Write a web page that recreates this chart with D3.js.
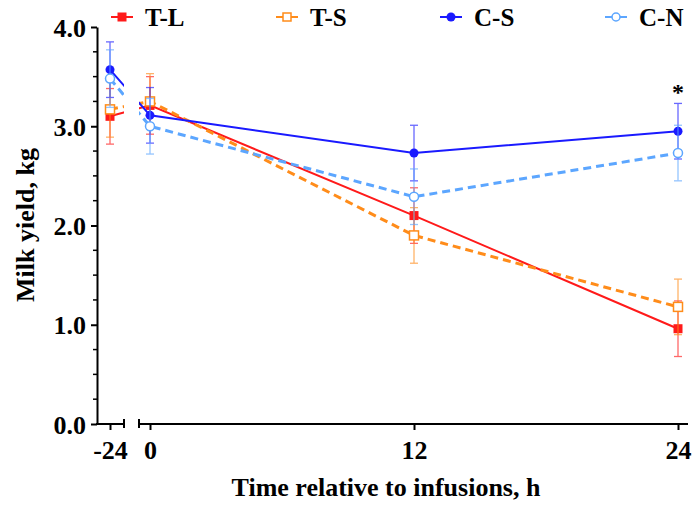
<!DOCTYPE html>
<html>
<head>
<meta charset="utf-8">
<script src="https://d3js.org/d3.v7.min.js"></script>
<style>
  body { margin: 0; background: #fff; }
  svg text { font-family: "Liberation Serif", "Times New Roman", serif; font-weight: bold; }
</style>
</head>
<body>
<div id="chart"></div>
<script>
// time points (h relative to infusions)
var times = [-24, 0, 12, 24];

// milk yield means and SE per treatment
var tlMean = [3.10, 3.21, 2.10, 0.96];
var tlSE   = [0.28, 0.29, 0.28, 0.28];
var tsMean = [3.17, 3.25, 1.90, 1.18];
var tsSE   = [0.28, 0.28, 0.28, 0.28];
var csMean = [3.57, 3.11, 2.73, 2.95];
var csSE   = [0.28, 0.28, 0.28, 0.28];
var cnMean = [3.48, 3.00, 2.29, 2.73];
var cnSE   = [0.29, 0.28, 0.28, 0.28];

var seriesNames = ["T-L", "T-S", "C-S", "C-N"];
var yTicks = [0, 1, 2, 3, 4];
var yMinor = d3.range(0, 4.01, 0.25);
var xTicksPre = [-24];
var xTicksPost = [0, 12, 24];
var axisBreak = [-15.6, -6.6];   // gap in the time axis

var width = 694, height = 506;
var svg = d3.select("#chart").append("svg")
  .attr("width", width).attr("height", height);

// broken axis: -24 sits on a short piece, 0..24 on the long one
var x = d3.scaleLinear().domain([-24, 0, 24]).range([110, 150, 678]);
var y = d3.scaleLinear().domain([0, 4]).range([424, 27]);
var xLeft = 97, xRight = 688;

var styles = [
  {name: "T-L", mean: tlMean, se: tlSE, color: "#ff1a1a", dash: null, width: 2, shape: "square", fill: true},
  {name: "T-S", mean: tsMean, se: tsSE, color: "#ff8c1a", dash: "8,5", width: 3, shape: "square", fill: false},
  {name: "C-S", mean: csMean, se: csSE, color: "#1a1aff", dash: null, width: 2, shape: "circle", fill: true},
  {name: "C-N", mean: cnMean, se: cnSE, color: "#5ca6ff", dash: "8,5", width: 3, shape: "circle", fill: false}
];

// clip lines out of the axis gap
var defs = svg.append("defs");
var clip = defs.append("clipPath").attr("id", "gap");
clip.append("rect").attr("x", 0).attr("y", 0)
  .attr("width", x(axisBreak[0])).attr("height", height);
clip.append("rect").attr("x", x(axisBreak[1])).attr("y", 0)
  .attr("width", width - x(axisBreak[1])).attr("height", height);

// y axis
var yAxis = svg.append("g")
  .attr("transform", "translate(" + xLeft + ",0)")
  .call(d3.axisLeft(y).tickValues(yTicks).tickFormat(d3.format(".1f")).tickSize(6).tickSizeOuter(0).tickPadding(5));
yAxis.select(".domain").attr("stroke-width", 2);
yAxis.selectAll(".tick line").attr("stroke-width", 2);
yAxis.selectAll(".tick text").style("font-size", "26px").attr("dy", "0.35em");
yAxis.selectAll(".minor").data(yMinor.filter(function(v) { return v % 1 != 0; }))
  .enter().append("line")
  .attr("x1", -4).attr("x2", 0)
  .attr("y1", function(d) { return y(d); }).attr("y2", function(d) { return y(d); })
  .attr("stroke", "#000").attr("stroke-width", 1.5);

// x axis, two pieces
function xPiece(ticks, x0, x1) {
  var g = svg.append("g").attr("transform", "translate(0," + y(0) + ")");
  g.call(d3.axisBottom(x).tickValues(ticks).tickFormat(function(d) { return String(d); }).tickSize(6).tickPadding(11));
  g.select(".domain").remove();
  g.append("line").attr("x1", x0).attr("x2", x1).attr("stroke", "#000").attr("stroke-width", 2);
  g.selectAll(".tick line").attr("stroke-width", 2);
  g.selectAll(".tick text").style("font-size", "26px");
  return g;
}
var xa1 = xPiece(xTicksPre, xLeft - 1, x(axisBreak[0]));
xa1.append("line").attr("x1", x(axisBreak[0])).attr("x2", x(axisBreak[0]))
  .attr("y1", -5).attr("y2", 4).attr("stroke", "#000").attr("stroke-width", 2);
var xa2 = xPiece(xTicksPost, x(axisBreak[1]), xRight);
xa2.append("line").attr("x1", x(axisBreak[1])).attr("x2", x(axisBreak[1]))
  .attr("y1", -5).attr("y2", 4).attr("stroke", "#000").attr("stroke-width", 2);

// axis titles
svg.append("text")
  .attr("x", 386).attr("y", 496)
  .attr("text-anchor", "middle")
  .style("font-size", "26px")
  .text("Time relative to infusions, h");
svg.append("text")
  .attr("transform", "translate(34,225) rotate(-90)")
  .attr("text-anchor", "middle")
  .style("font-size", "26px")
  .text("Milk yield, kg");

function marker(g, s, cx, cy, size) {
  if (s.shape == "square") {
    g.append("rect")
      .attr("x", cx - size / 2).attr("y", cy - size / 2)
      .attr("width", size).attr("height", size)
      .attr("fill", s.fill ? s.color : "#fff")
      .attr("stroke", s.color).attr("stroke-width", s.fill ? 0 : 1.5);
  } else {
    g.append("circle")
      .attr("cx", cx).attr("cy", cy).attr("r", size / 2)
      .attr("fill", s.fill ? s.color : "#fff")
      .attr("stroke", s.color).attr("stroke-width", s.fill ? 0 : 1.5);
  }
}

// series
styles.forEach(function(s) {
  var pts = times.map(function(t, i) { return {t: t, v: s.mean[i], se: s.se[i]}; });
  var g = svg.append("g");

  // error bars
  pts.forEach(function(p) {
    var eb = g.append("g").attr("stroke", s.color).attr("stroke-width", 1.3).attr("opacity", 0.65);
    eb.append("line").attr("x1", x(p.t)).attr("x2", x(p.t))
      .attr("y1", y(p.v - p.se)).attr("y2", y(p.v + p.se));
    [p.v - p.se, p.v + p.se].forEach(function(v) {
      eb.append("line").attr("x1", x(p.t) - 4).attr("x2", x(p.t) + 4)
        .attr("y1", y(v)).attr("y2", y(v));
    });
  });

  var line = d3.line().x(function(d) { return x(d.t); }).y(function(d) { return y(d.v); });
  g.append("path").datum(pts)
    .attr("d", line)
    .attr("clip-path", "url(#gap)")
    .attr("fill", "none")
    .attr("stroke", s.color)
    .attr("stroke-width", s.width)
    .attr("stroke-dasharray", s.dash);

  pts.forEach(function(p) { marker(g, s, x(p.t), y(p.v), 9); });
});

// significance mark
svg.append("text")
  .attr("x", x(24)).attr("y", y(csMean[3] + csSE[3]) - 3)
  .attr("text-anchor", "middle")
  .style("font-size", "24px")
  .text("*");

// legend
var legendX = [122, 287, 451, 616];
styles.forEach(function(s, i) {
  var g = svg.append("g").attr("transform", "translate(" + legendX[i] + ",17)");
  g.append("line").attr("x1", -11).attr("x2", 11)
    .attr("stroke", s.color).attr("stroke-width", 2);
  marker(g, s, 0, 0, s.fill ? 9 : 8);
  g.append("text").attr("x", 23).attr("y", 9)
    .style("font-size", "25px")
    .text(seriesNames[i]);
});
</script>
</body>
</html>
